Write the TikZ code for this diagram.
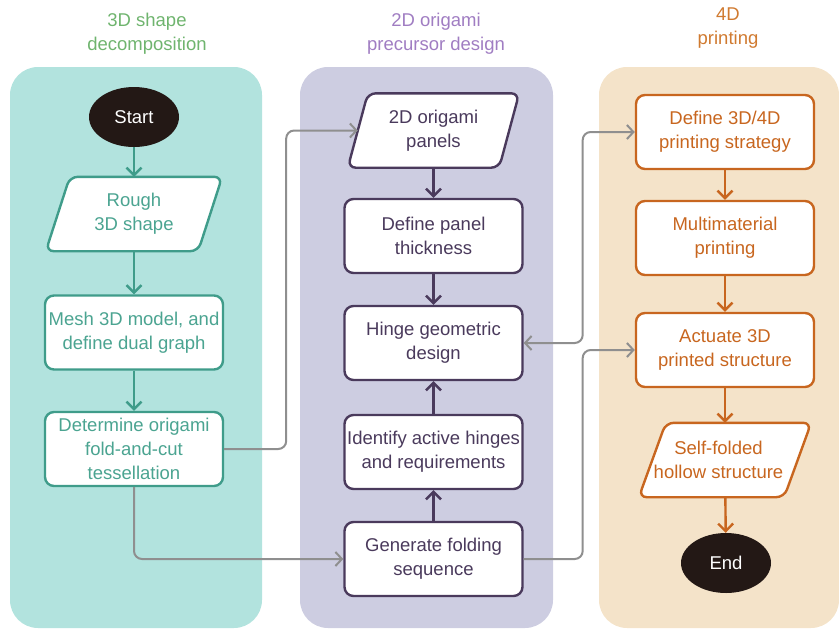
\documentclass[tikz,border=0pt]{standalone}
\usepackage{fontspec}
\setmainfont{Liberation Sans}
\usetikzlibrary{arrows.meta,shapes.geometric}

\definecolor{tealbg}{HTML}{B2E3DE}
\definecolor{tealln}{HTML}{3F9C8A}
\definecolor{tealtx}{HTML}{4BA491}
\definecolor{purbg}{HTML}{CDCDE1}
\definecolor{purln}{HTML}{4A3A5C}
\definecolor{orbg}{HTML}{F4E3C9}
\definecolor{orln}{HTML}{C8661F}
\definecolor{greyln}{HTML}{8F8F8F}
\definecolor{hdgreen}{HTML}{6FB46E}
\definecolor{hdpurple}{HTML}{A07DC2}
\definecolor{hdorange}{HTML}{D07A30}
\definecolor{termfill}{HTML}{231815}

\pgfdeclarelayer{panels}
\pgfdeclarelayer{shapes}
\pgfsetlayers{panels,shapes,main}

% slanted data box drawn behind a named rectangle node: #1 node, #2 slant, #3 colour
\newcommand\slantbox[3]{%
  \begin{pgfonlayer}{shapes}
    \draw[#3, line width=2.4pt, fill=white, rounded corners=8pt]
      (#1.north) -- (#1.north east) -- ([xshift=-#2]#1.south east)
      -- (#1.south west) -- ([xshift=#2]#1.north west) -- cycle;
  \end{pgfonlayer}}

\tikzset{
  txt/.style={font=\fontsize{18.5}{24}\selectfont, align=center, inner sep=0pt},
  procbox/.style={txt, rectangle, rounded corners=9pt, draw, fill=white,
    line width=2.4pt, minimum width=178pt, minimum height=74pt},
  databox/.style={txt, rectangle, minimum height=74pt},
  term/.style={txt, ellipse, fill=termfill, text=white,
    minimum width=90pt, minimum height=60pt},
  flow/.style={line width=2.4pt, -{Straight Barb[length=7.5pt,width=15pt]}},
  link/.style={draw=greyln, line width=2pt, rounded corners=8pt,
    -{Straight Barb[length=6.5pt,width=14pt]}},
  header/.style={txt},
  panel/.style={rounded corners=28pt}
}

\begin{document}
\begin{tikzpicture}[x=1pt,y=-1pt]
\useasboundingbox (0,0) rectangle (839,630);

% column backgrounds
\begin{pgfonlayer}{panels}
  \fill[tealbg, panel] (10,67) rectangle (262,628);
  \fill[purbg, panel] (300,67) rectangle (553,628);
  \fill[orbg, panel] (599,67) rectangle (839,628);
\end{pgfonlayer}

% column headings
\node[header, text=hdgreen] (h1) at (147,34) {3D shape\\decomposition};
\node[header, text=hdpurple] (h2) at (436,34) {2D origami\\precursor design};
\node[header, text=hdorange] (h3) at (728,28) {4D\\printing};

% 3D shape decomposition
\node[term] (start) at (134,117) {Start};
\node[databox, minimum width=176pt, text=tealtx] (rough) at (134,214) {Rough\\3D shape};
\slantbox{rough}{24pt}{tealln}
\node[procbox, draw=tealln, text=tealtx] (mesh) at (134,332.5) {Mesh 3D model, and\\define dual graph};
\node[procbox, draw=tealln, text=tealtx] (det) at (134,449) {Determine origami\\fold-and-cut\\tessellation};

% 2D origami precursor design
\node[databox, minimum width=171pt, text=purln] (pan) at (433.5,130.5) {2D origami\\panels};
\slantbox{pan}{20pt}{purln}
\node[procbox, draw=purln, text=purln] (thick) at (433.5,236) {Define panel\\thickness};
\node[procbox, draw=purln, text=purln] (hinge) at (433.5,343) {Hinge geometric\\design};
\node[procbox, draw=purln, text=purln] (ident) at (433.5,452) {Identify active hinges\\and requirements};
\node[procbox, draw=purln, text=purln] (gen) at (433.5,559) {Generate folding\\sequence};

% 4D printing
\node[procbox, draw=orln, text=orln] (strat) at (725,132) {Define 3D/4D\\printing strategy};
\node[procbox, draw=orln, text=orln] (multi) at (725,238) {Multimaterial\\printing};
\node[procbox, draw=orln, text=orln] (act) at (725,350) {Actuate 3D\\printed structure};
\node[databox, minimum width=172pt, text=orln] (self) at (725,460)
  {Self-folded\hspace*{13pt}\\hollow structure\hspace*{13pt}};
\slantbox{self}{27pt}{orln}
\node[term] (end) at (726,563) {End};

% flow within columns
\draw[flow, tealln] (start) -- (rough);
\draw[flow, tealln] (rough) -- (mesh);
\draw[flow, tealln] (mesh) -- (det);

\draw[flow, purln] (pan) -- (thick);
\draw[flow, purln] (thick) -- (hinge);
\draw[flow, purln] (ident) -- (hinge);
\draw[flow, purln] (gen) -- (ident);

\draw[flow, orln] (strat) -- (multi);
\draw[flow, orln] (multi) -- (act);
\draw[flow, orln] (act) -- (self);
\draw[flow, orln] (self) -- (end);

% links between columns
\draw[link] (det.east) -- ++(62,0) |- ([xshift=10pt]pan.west);
\draw[link] (det.south) |- (gen.west);
\draw[link, {Straight Barb[length=6.5pt,width=14pt]}-{Straight Barb[length=6.5pt,width=14pt]}]
  (hinge.east) -- ++(59,0) |- (strat.west);
\draw[link] (gen.east) -- ++(59,0) |- (act.west);
\end{tikzpicture}
\end{document}
